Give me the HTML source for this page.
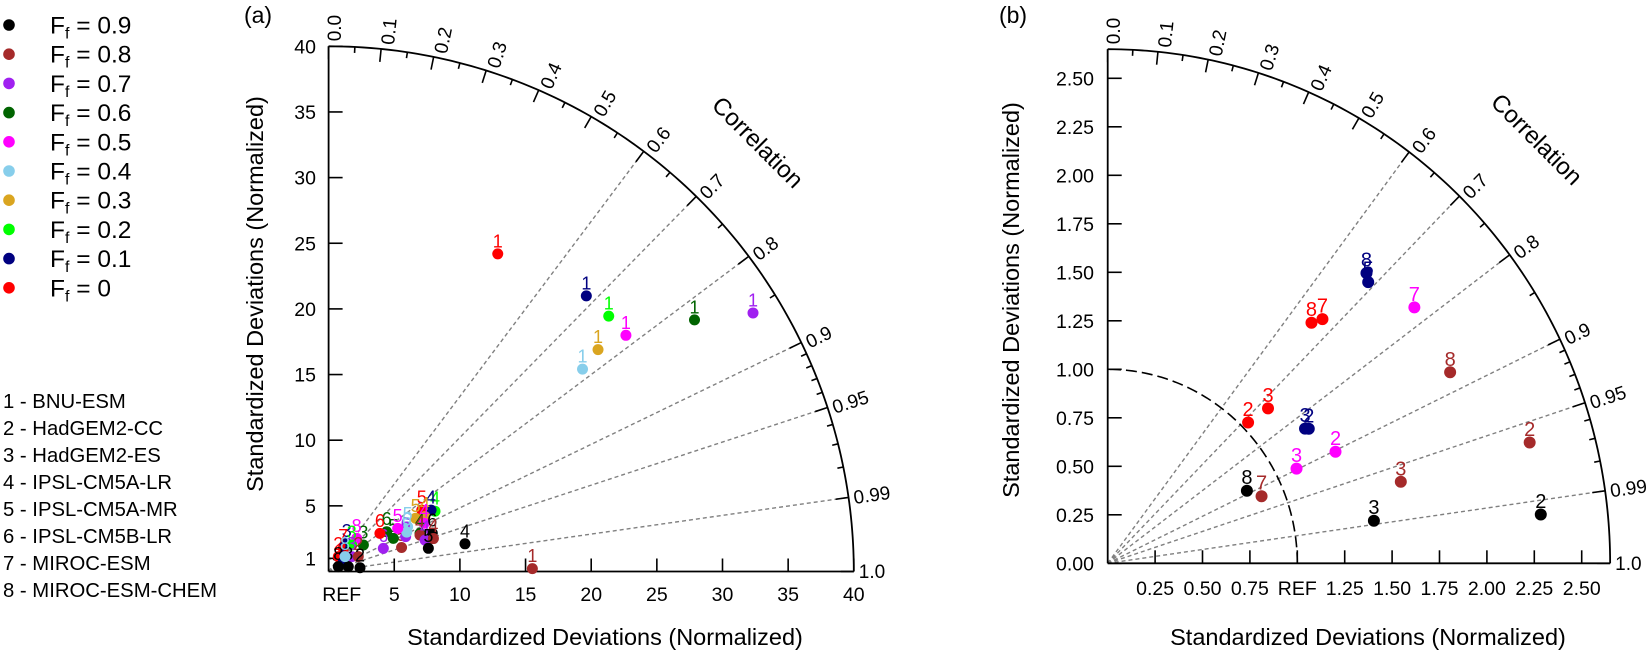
<!DOCTYPE html>
<html><head><meta charset="utf-8"><title>Taylor diagrams</title>
<style>
html,body{margin:0;padding:0;background:#fff;}
svg{display:block;font-family:"Liberation Sans",Arial,sans-serif;}
</style></head>
<body>
<svg id="chart" width="1650" height="651" viewBox="0 0 1650 651" xmlns="http://www.w3.org/2000/svg">
<g id="legend"></g>
<g id="panelA"></g>
<g id="panelB"></g>
</svg>
<script>
// ---- data ----
const ffLabels = ["0.9","0.8","0.7","0.6","0.5","0.4","0.3","0.2","0.1","0"];
const ffColors = ["#000000","#a52a2a","#a020f0","#006400","#ff00ff","#87ceeb","#daa520","#00ff00","#000080","#ff0000"];
const modelNames = ["1 - BNU-ESM","2 - HadGEM2-CC","3 - HadGEM2-ES","4 - IPSL-CM5A-LR","5 - IPSL-CM5A-MR","6 - IPSL-CM5B-LR","7 - MIROC-ESM","8 - MIROC-ESM-CHEM"];

// panel (a)
const aSd    = [9.315,8.495,9.096,7.769,8.442,6.919,8.162,7.544,7.495,8.419,7.722,8.368,7.801,5.850,6.440,6.664,5.537,5.359,6.204,4.526,4.868,3.332,3.306,2.546,2.086,2.679,1.351,2.092,2.527,1.348,0.827,2.408,1.545,1.685,10.60,15.52,27.41,28.74,28.87,28.92,26.58,24.73,33.82,37.85];
const aCorr  = [0.870,0.835,0.858,0.853,0.869,0.870,0.893,0.923,0.929,0.938,0.951,0.954,0.974,0.950,0.911,0.893,0.890,0.825,0.848,0.921,0.803,0.795,0.647,0.542,0.537,0.657,0.548,0.841,0.894,0.831,0.894,0.993,0.971,0.742,0.980,0.9999,0.470,0.683,0.739,0.783,0.772,0.782,0.824,0.854];
const aGroup = [7,9,8,6,6,5,4,3,1,0,2,1,0,1,2,5,3,3,4,2,9,3,4,8,9,7,9,2,1,8,0,0,0,5,0,1,9,8,7,4,6,5,3,2];
const aModel = ["4","5","4","5","4","5","4","4","4","6","4","4","5","5","6","6","5","6","5","6","6","3","8","3","7","3","2","3","2","2","8","2","3","8","4","1","1","1","1","1","1","1","1","1"];

// panel (b)
const bSd    = [1.037,1.163,1.641,1.693,2.025,1.997,1.251,1.267,2.087,1.332,1.109,2.057,2.311,1.602,0.882,0.824,1.421,2.298];
const bCorr  = [0.714,0.727,0.655,0.669,0.674,0.688,0.832,0.837,0.775,0.902,0.898,0.878,0.963,0.965,0.920,0.891,0.988,0.994];
const bGroup = [9,9,9,9,8,8,8,8,4,4,4,1,1,1,1,0,0,0];
const bModel = ["2","3","8","7","8","5","3","2","7","2","3","8","2","3","7","8","3","2"];

// axis tick labels
const aXTicks = [1,5,10,15,20,25,30,35,40];
const aXTickLabels = ["REF","5","10","15","20","25","30","35","40"];
const aYTicks = [1,5,10,15,20,25,30,35,40];
const aYTickLabels = ["1","5","10","15","20","25","30","35","40"];
const bXTicks = [0.25,0.5,0.75,1,1.25,1.5,1.75,2,2.25,2.5];
const bXTickLabels = ["0.25","0.50","0.75","REF","1.25","1.50","1.75","2.00","2.25","2.50"];
const bYTicks = [0,0.25,0.5,0.75,1,1.25,1.5,1.75,2,2.25,2.5];
const bYTickLabels = ["0.00","0.25","0.50","0.75","1.00","1.25","1.50","1.75","2.00","2.25","2.50"];
const corrMajor = [0,0.1,0.2,0.3,0.4,0.5,0.6,0.7,0.8,0.9,0.95,0.99,1.0];
const corrMajorLabels = ["0.0","0.1","0.2","0.3","0.4","0.5","0.6","0.7","0.8","0.9","0.95","0.99","1.0"];
const corrMinor = [0.05,0.15,0.25,0.35,0.45,0.55,0.65,0.75,0.85,0.91,0.92,0.93,0.94,0.96,0.97,0.98];
const corrDashed = [0.6,0.7,0.8,0.9,0.95,0.99];

const NS = "http://www.w3.org/2000/svg";
function mk(tag, attrs, parent, text){
  const e = document.createElementNS(NS, tag);
  for (const k in attrs) e.setAttribute(k, attrs[k]);
  if (text !== undefined) e.textContent = text;
  parent.appendChild(e);
  return e;
}

// ---- legend ----
const lg = document.getElementById("legend");
ffLabels.forEach((lab, i) => {
  const y = 25 + i * 29.2;
  const c = mk("circle", {cx: 9, cy: y, r: 5.8, fill: ffColors[i]}, lg);
  
  
  const t = mk("text", {x: 50, y: y + 8.5, "font-size": 24.5, fill: "#000"}, lg);
  
  
  mk("tspan", {}, t, "F");
  mk("tspan", {"font-size": 16, dy: 5}, t, "f");
  mk("tspan", {dy: -5}, t, " = " + lab);
});
modelNames.forEach((m, i) => {
  const t = mk("text", {x: 3, y: 408 + i * 27, "font-size": 20.3, fill: "#000"}, lg, m);
  
  
});

// ---- panel drawing ----
function drawPanel(g, cfg){
  const {ox, oy, sx, sy, rmax} = cfg;
  const X = (sd, c) => ox + sd * c * sx;
  const Y = (sd, c) => oy - sd * Math.sqrt(Math.max(0, 1 - c * c)) * sy;

  const tag = mk("text", {x: cfg.tagX, y: 23, "font-size": 23, "text-anchor": "middle"}, g, cfg.tag);
  
  

  corrDashed.forEach(c => {
    const l = mk("line", {x1: ox, y1: oy, x2: X(rmax, c), y2: Y(rmax, c), stroke: "#808080", "stroke-width": 1.4, "stroke-dasharray": "4,3"}, g);
    
    
  });

  let d = "";
  for (let k = 0; k <= 60; k++){
    const a = Math.PI / 2 * k / 60;
    d += (k ? "L" : "M") + (ox + cfg.refR * Math.cos(a) * sx).toFixed(2) + "," + (oy - cfg.refR * Math.sin(a) * sy).toFixed(2);
  }
  const ra = mk("path", {d: d, fill: "none", stroke: "#000", "stroke-width": 1.6, "stroke-dasharray": cfg.refDash}, g);
  
  

  d = "";
  for (let k = 0; k <= 120; k++){
    const a = Math.PI / 2 * k / 120;
    d += (k ? "L" : "M") + (ox + rmax * Math.cos(a) * sx).toFixed(2) + "," + (oy - rmax * Math.sin(a) * sy).toFixed(2);
  }
  const oa = mk("path", {d: d, fill: "none", stroke: "#000", "stroke-width": 1.8}, g);
  
  

  const xa = mk("line", {x1: ox, y1: oy, x2: ox + rmax * sx, y2: oy, stroke: "#000", "stroke-width": 1.8}, g);
  
  
  const ya = mk("line", {x1: ox, y1: oy, x2: ox, y2: oy - rmax * sy, stroke: "#000", "stroke-width": 1.8}, g);
  
  

  function arcTick(c, len){
    const a = Math.acos(c);
    const x1 = ox + rmax * Math.cos(a) * sx, y1 = oy - rmax * Math.sin(a) * sy;
    const x2 = ox + (rmax * sx - len) * Math.cos(a), y2 = oy - (rmax * sy - len) * Math.sin(a);
    const t = mk("line", {x1: x1, y1: y1, x2: x2, y2: y2, stroke: "#000", "stroke-width": 1.6}, g);
    
    
  }
  corrMajor.forEach(c => arcTick(c, 13));
  corrMinor.forEach(c => arcTick(c, 6));
  corrMajor.forEach((c, i) => {
    const a = Math.acos(c);
    const px = ox + (rmax * sx + 5) * Math.cos(a), py = oy - (rmax * sy + 5) * Math.sin(a);
    const deg = -a * 180 / Math.PI;
    const t = mk("text", {x: 0, y: 0, dy: (6.5 + 6 * Math.sin(a)).toFixed(1), "font-size": 19, transform: `translate(${px.toFixed(2)},${py.toFixed(2)}) rotate(${deg.toFixed(2)})`}, g, corrMajorLabels[i]);
    
    
  });

  const ct = mk("text", {x: 0, y: 0, "font-size": 24, "text-anchor": "middle", transform: `translate(${cfg.corrX},${cfg.corrY}) rotate(45)`}, g, "Correlation");
  
  

  cfg.xTicks.forEach((v, i) => {
    const x = ox + v * sx;
    const t = mk("line", {x1: x, y1: oy, x2: x, y2: oy - 13, stroke: "#000", "stroke-width": 1.6}, g);
    
    
    const l = mk("text", {x: x, y: cfg.xLabY, "font-size": 19.5, "text-anchor": "middle"}, g, cfg.xTickLabels[i]);
    
    
  });
  cfg.yTicks.forEach((v, i) => {
    const y = oy - v * sy;
    const t = mk("line", {x1: ox, y1: y, x2: ox + 14, y2: y, stroke: "#000", "stroke-width": 1.6}, g);
    
    
    const l = mk("text", {x: cfg.yLabX, y: y + 7, "font-size": 19.5, "text-anchor": "end"}, g, cfg.yTickLabels[i]);
    
    
  });

  const xt = mk("text", {x: cfg.xTitleX, y: 645, "font-size": 23.5, "text-anchor": "middle"}, g, "Standardized Deviations (Normalized)");
  
  
  const yt = mk("text", {x: 0, y: 0, "font-size": 23.5, "text-anchor": "middle", transform: `translate(${cfg.yTitleX},${cfg.yTitleY}) rotate(-90)`}, g, "Standardized Deviations (Normalized)");
  
  

  cfg.sd.forEach((s, i) => {
    const c = cfg.corr[i];
    const px = X(s, c), py = Y(s, c);
    const col = ffColors[cfg.group[i]];
    const p = mk("circle", {cx: px.toFixed(2), cy: py.toFixed(2), r: cfg.dotR, fill: col}, g);
    
    
    const t = mk("text", {x: px.toFixed(2), y: (py - 6.5).toFixed(2), "font-size": cfg.ptFont, "text-anchor": "middle", fill: col}, g, cfg.model[i]);
    
    
  });
}

drawPanel(document.getElementById("panelA"), {
  tag: "(a)", tagX: 258, ox: 328.6, oy: 571.5, sx: 13.13, sy: 13.13, rmax: 40, refR: 1, refDash: "4,2",
  xTicks: aXTicks, xTickLabels: aXTickLabels, yTicks: aYTicks, yTickLabels: aYTickLabels,
  xLabY: 601, yLabX: 316, xTitleX: 605, yTitleX: 263, yTitleY: 294, corrX: 752, corrY: 148,
  sd: aSd, corr: aCorr, group: aGroup, model: aModel, dotR: 5.5, ptFont: 18
});
drawPanel(document.getElementById("panelB"), {
  tag: "(b)", tagX: 1013, ox: 1107.7, oy: 563.3, sx: 189.6, sy: 194, rmax: 2.65, refR: 1, refDash: "11,5",
  xTicks: bXTicks, xTickLabels: bXTickLabels, yTicks: bYTicks, yTickLabels: bYTickLabels,
  xLabY: 595, yLabX: 1094, xTitleX: 1368, yTitleX: 1019, yTitleY: 300, corrX: 1531, corrY: 145,
  sd: bSd, corr: bCorr, group: bGroup, model: bModel, dotR: 6, ptFont: 20
});
</script>
</body></html>
